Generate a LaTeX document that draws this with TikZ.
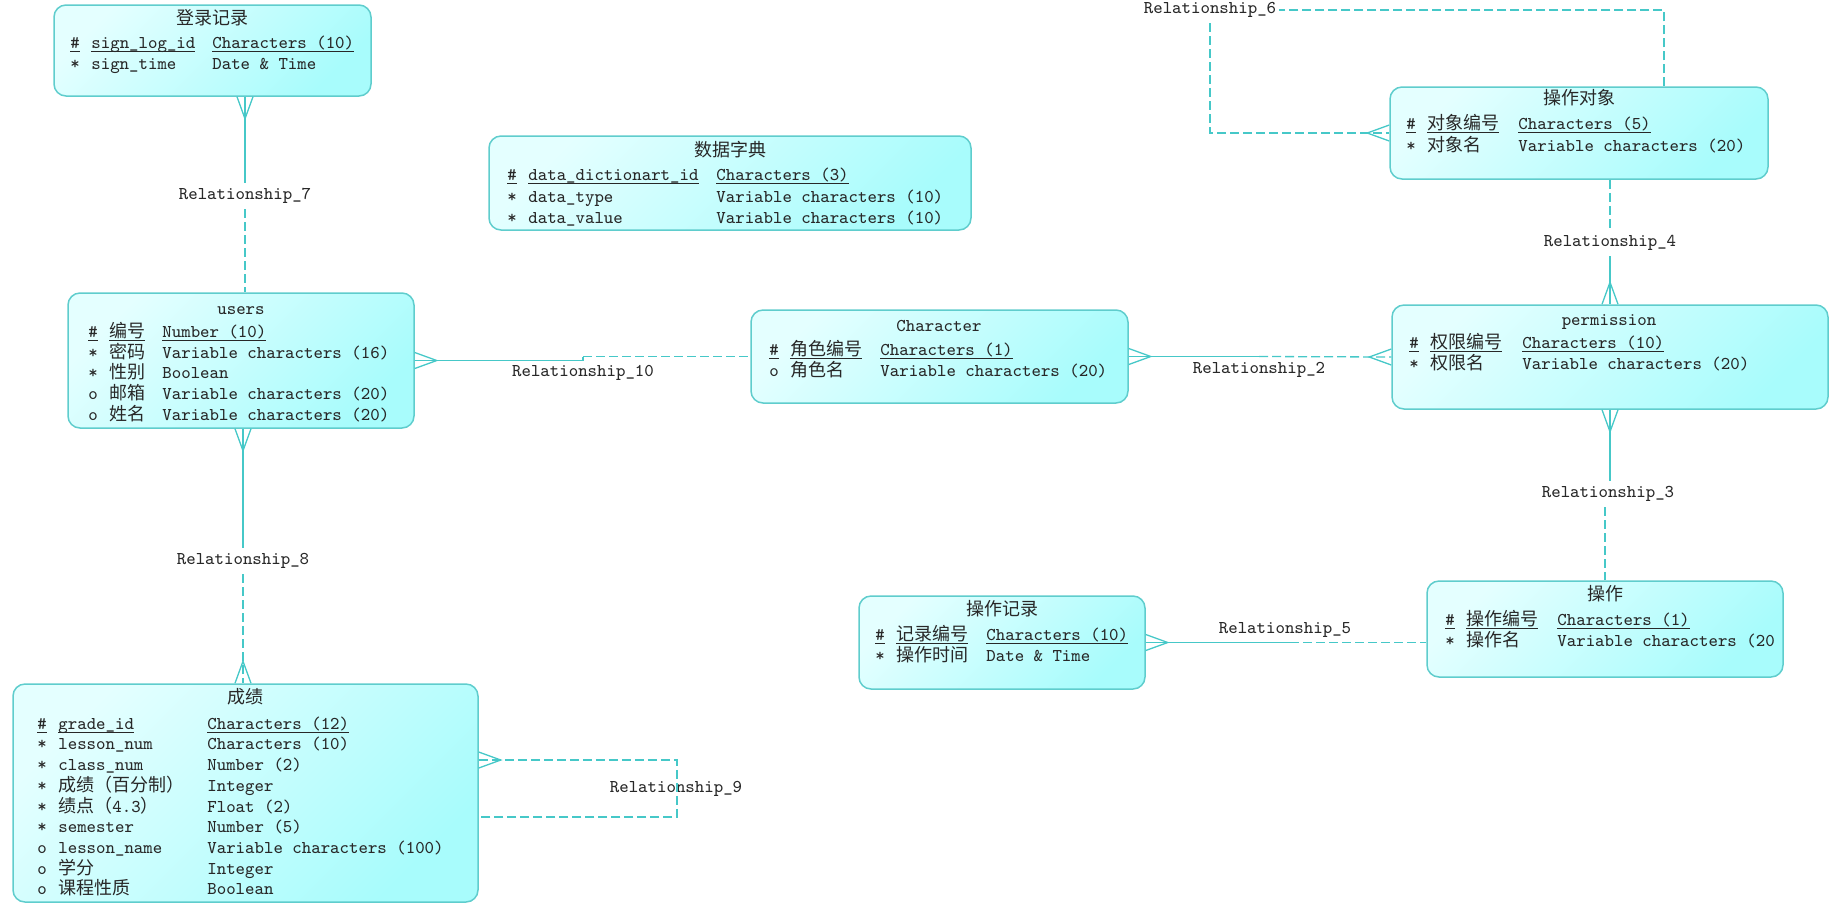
\documentclass[tikz,border=0pt]{standalone}
\usepackage{fontspec}
\newfontfamily\cjk{Noto Sans CJK SC}
\usetikzlibrary{calc,fit}
\definecolor{connc}{RGB}{70,200,200}
\definecolor{bordc}{RGB}{95,205,205}
\definecolor{fa}{RGB}{228,255,255}
\definecolor{fb}{RGB}{168,252,252}
\definecolor{txtc}{RGB}{40,40,40}
\newsavebox\ulbox
\newcommand\ul[1]{\sbox\ulbox{#1}\rlap{\rule[-2pt]{\wd\ulbox}{0.45pt}}\usebox\ulbox}
\newcommand\rw[3]{\makebox[10.5pt][l]{#1}\makebox[\wtwo][l]{#2}#3}
\newcommand\crow[3]{\draw[conn] ($#1+(#3*8,#2*8)$) -- ($#1+(#2*22,#3*22)$) -- ($#1-(#3*8,#2*8)$);}
\tikzset{
  conn/.style={draw=connc, line width=0.65pt},
  dsh/.style={conn, dash pattern=on 4.5pt off 2pt},
  ent/.style={draw=bordc, line width=0.75pt, rounded corners=6pt, inner sep=0pt, top color=fa, bottom color=fb, shading angle=45},
  ttl/.style={anchor=base, inner sep=0pt},
  row/.style={anchor=base west, inner sep=0pt},
  rlab/.style={inner sep=1pt, minimum height=13pt},
  every node/.append style={font=\ttfamily\fontsize{9}{10}\selectfont, text=txtc}
}
\begin{document}
\begin{tikzpicture}[x=0.5pt,y=-0.5pt]
\useasboundingbox (0,0) rectangle (1837,907);
% entity boxes
\node[ent, fit={(54,5)(371,96)}] (L) {};
\node[ent, fit={(489,136)(971,230)}] (D) {};
\node[ent, fit={(1390,87)(1768,179)}] (O) {};
\node[ent, fit={(68,293)(414,428)}] (U) {};
\node[ent, fit={(751,310)(1128,403)}] (C) {};
\node[ent, fit={(1392,305)(1828,409)}] (P) {};
\node[ent, fit={(1427,581)(1783,677)}] (A) {};
\node[ent, fit={(859,596)(1145,689)}] (R) {};
\node[ent, fit={(13,684)(478,902)}] (G) {};

% 登录记录
\def\wtwo{60.5pt}
\node[ttl] (Lt) at (212.5,24) {\cjk 登录记录};
\node[row] (L1) at (70,48) {\rw{\ul{\#}}{\ul{sign\_log\_id}}{\ul{Characters (10)}}};
\node[row] (L2) at (70,69) {\rw{*}{sign\_time}{Date \& Time}};

% 数据字典
\def\wtwo{94pt}
\node[ttl] (Dt) at (730,156) {\cjk 数据字典};
\node[row] (D1) at (507,180) {\rw{\ul{\#}}{\ul{data\_dictionart\_id}}{\ul{Characters (3)}}};
\node[row] (D2) at (507,202) {\rw{*}{data\_type}{Variable characters (10)}};
\node[row] (D3) at (507,223) {\rw{*}{data\_value}{Variable characters (10)}};

% 操作对象
\def\wtwo{45.5pt}
\node[ttl] (Ot) at (1579,104) {\cjk 操作对象};
\node[row] (O1) at (1406,129) {\rw{\ul{\#}}{\ul{\cjk 对象编号}}{\ul{Characters (5)}}};
\node[row] (O2) at (1406,151) {\rw{*}{\cjk 对象名}{Variable characters (20)}};

% users
\def\wtwo{26.5pt}
\node[ttl] (Ut) at (241,314) {users};
\node[row] (U1) at (88,337) {\rw{\ul{\#}}{\ul{\cjk 编号}}{\ul{Number (10)}}};
\node[row] (U2) at (88,358) {\rw{*}{\cjk 密码}{Variable characters (16)}};
\node[row] (U3) at (88,378) {\rw{*}{\cjk 性别}{Boolean}};
\node[row] (U4) at (88,399) {\rw{o}{\cjk 邮箱}{Variable characters (20)}};
\node[row] (U5) at (88,420) {\rw{o}{\cjk 姓名}{Variable characters (20)}};

% Character
\def\wtwo{45pt}
\node[ttl] (Ct) at (939,331) {Character};
\node[row] (C1) at (769,355) {\rw{\ul{\#}}{\ul{\cjk 角色编号}}{\ul{Characters (1)}}};
\node[row] (C2) at (769,376) {\rw{o}{\cjk 角色名}{Variable characters (20)}};

% permission
\def\wtwo{46pt}
\node[ttl] (Pt) at (1609,325) {permission};
\node[row] (P1) at (1409,348) {\rw{\ul{\#}}{\ul{\cjk 权限编号}}{\ul{Characters (10)}}};
\node[row] (P2) at (1409,369) {\rw{*}{\cjk 权限名}{Variable characters (20)}};

% 操作
\def\wtwo{45.5pt}
\node[ttl] (At) at (1605,600) {\cjk 操作};
\node[row] (A1) at (1445,625) {\rw{\ul{\#}}{\ul{\cjk 操作编号}}{\ul{Characters (1)}}};
\node[row] (A2) at (1445,646) {\rw{*}{\cjk 操作名}{Variable characters (20}};

% 操作记录
\def\wtwo{45pt}
\node[ttl] (Rt) at (1002,615) {\cjk 操作记录};
\node[row] (R1) at (875,640) {\rw{\ul{\#}}{\ul{\cjk 记录编号}}{\ul{Characters (10)}}};
\node[row] (R2) at (875,661) {\rw{*}{\cjk 操作时间}{Date \& Time}};

% 成绩
\def\wtwo{74.5pt}
\node[ttl] (Gt) at (245,703) {\cjk 成绩};
\node[row] (G1) at (37,729) {\rw{\ul{\#}}{\ul{grade\_id}}{\ul{Characters (12)}}};
\node[row] (G2) at (37,749) {\rw{*}{lesson\_num}{Characters (10)}};
\node[row] (G3) at (37,770) {\rw{*}{class\_num}{Number (2)}};
\node[row] (G4) at (37,791) {\rw{*}{\cjk 成绩（百分制）}{Integer}};
\node[row] (G5) at (37,812) {\rw{*}{{\cjk 绩点（}4.3{\cjk ）}}{Float (2)}};
\node[row] (G6) at (37,832) {\rw{*}{semester}{Number (5)}};
\node[row] (G7) at (37,853) {\rw{o}{lesson\_name}{Variable characters (100)}};
\node[row] (G8) at (37,874) {\rw{o}{\cjk 学分}{Integer}};
\node[row] (G9) at (37,894) {\rw{o}{\cjk 课程性质}{Boolean}};

% relationship labels
\node[rlab] (l7) at (245,196) {Relationship\_7};
\node[rlab] (l8) at (243,561) {Relationship\_8};
\node[rlab] (l10) at (583,373) {Relationship\_10};
\node[rlab] (l2) at (1259,370) {Relationship\_2};
\node[rlab] (l4) at (1610,243) {Relationship\_4};
\node[rlab] (l3) at (1608,494) {Relationship\_3};
\node[rlab] (l5) at (1285,630) {Relationship\_5};
\node[rlab] (l6) at (1210,10) {Relationship\_6};
\node[rlab] (l9) at (676,789) {Relationship\_9};

% R7
\coordinate (e7a) at (L.south -| l7);
\coordinate (e7b) at (U.north -| l7);
\draw[conn] (e7a) -- (l7.north);
\draw[dsh] (l7.south) -- (e7b);
\crow{(e7a)}{0}{1}
% R8
\coordinate (e8a) at (U.south -| l8);
\coordinate (e8b) at (G.north -| l8);
\draw[conn] (e8a) -- (l8.north);
\draw[dsh] (l8.south) -- (e8b);
\crow{(e8a)}{0}{1}
\crow{(e8b)}{0}{-1}
% R10
\coordinate (j10) at (583,0);
\draw[conn] (U.east) -- (U.east -| j10) -- (C.west -| j10);
\draw[dsh] (C.west -| j10) -- (C.west);
\crow{(U.east)}{1}{0}
% R2
\coordinate (j2) at (1259,0);
\draw[conn] (C.east) -- (C.east -| j2);
\draw[dsh] (C.east -| j2) -- (P.west);
\crow{(C.east)}{1}{0}
\crow{(P.west)}{-1}{0}
% R4
\coordinate (e4a) at (O.south -| l4);
\coordinate (e4b) at (P.north -| l4);
\draw[dsh] (e4a) -- (l4.north);
\draw[conn] (l4.south) -- (e4b);
\crow{(e4b)}{0}{-1}
% R3
\draw[conn] (P.south) -- (P.south |- l3.north);
\draw[dsh] (A.north |- l3.south) -- (A.north);
\crow{(P.south)}{0}{1}
% R5
\coordinate (j5) at (1290,0);
\draw[conn] (R.east) -- (R.east -| j5);
\draw[dsh] (R.east -| j5) -- (R.east -| A.west);
\crow{(R.east)}{1}{0}
% R6
\coordinate (k6) at (1664,0);
\coordinate (e6) at (O.north -| k6);
\draw[dsh] (e6) |- (l6.east);
\draw[dsh] (l6.south) |- (O.west);
\crow{(O.west)}{-1}{0}
% R9
\coordinate (k9a) at (677,760);
\coordinate (k9b) at (677,817);
\coordinate (e9a) at (G.east |- k9a);
\coordinate (e9b) at (G.east |- k9b);
\draw[dsh] (e9a) -- (k9a) -- (k9b) -- (e9b);
\crow{(e9a)}{1}{0}
\end{tikzpicture}
\end{document}
